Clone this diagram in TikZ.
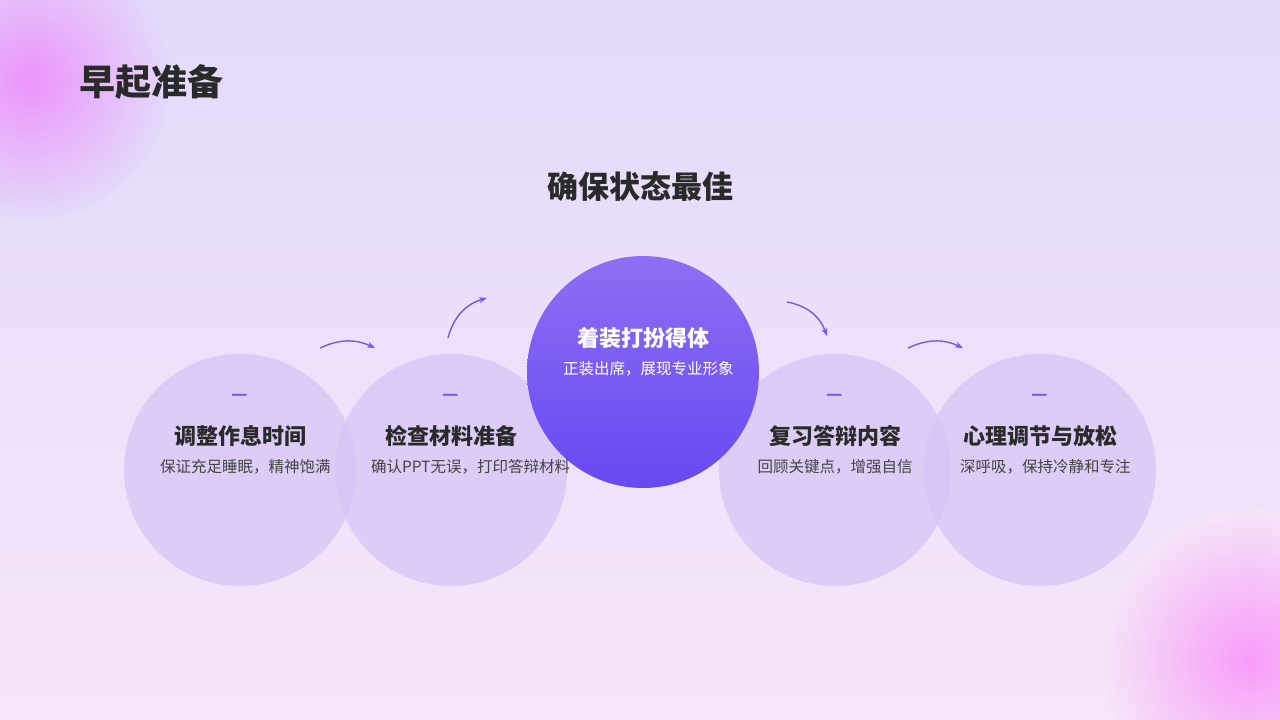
\documentclass[tikz,border=0pt]{standalone}
\usepackage{fontspec}
\setmainfont{Noto Sans CJK SC}
\usetikzlibrary{arrows.meta, positioning}
\definecolor{bgtop}{HTML}{E3DAFB}
\definecolor{bgbot}{HTML}{F6E6F8}
\definecolor{disc}{HTML}{D6C5F6}
\definecolor{accent}{HTML}{7A55F0}
\definecolor{ink}{HTML}{2A2A2A}
\definecolor{soft}{HTML}{444444}
\tikzset{
    step disc/.style={circle, fill=disc, fill opacity=0.75, minimum size=232pt, inner sep=0pt},
    step title/.style={font=\fontsize{22}{24}\selectfont\bfseries, text=ink},
    step text/.style={font=\fontsize{15.5}{24}\selectfont, text=soft, text width=160pt, align=center},
    step mark/.style={font=\fontsize{18}{18}\selectfont\bfseries, text=accent},
    flow arrow/.style={-{Stealth[length=8pt]}, accent, line width=1.4pt}
}
\begin{document}
\begin{tikzpicture}[x=1pt, y=-1pt]
    % Background
    \shade[top color=bgtop, bottom color=bgbot] (0,0) rectangle (1280,720);
    \useasboundingbox (0,0) rectangle (1280,720);
    \begin{scope}
        \clip (0,0) rectangle (1280,720);
        \shade[inner color=magenta!40!bgtop, outer color=bgtop, opacity=0.8] (30,80) circle (140);
        \shade[inner color=magenta!40!bgbot, outer color=bgbot, opacity=0.8] (1250,660) circle (150);
    \end{scope}

    % Titles
    \node[anchor=west, font=\fontsize{36}{40}\selectfont\bfseries, text=ink] (title) at (76,82) {早起准备};
    \node[font=\fontsize{31}{34}\selectfont\bfseries, text=ink] (subtitle) at (640,187) {确保状态最佳};

    % Steps
    \node[step disc] (s1) at (240,470) {};
    \node[step disc] (s2) at (451,470) {};
    \node[step disc] (s4) at (835,470) {};
    \node[step disc] (s5) at (1040,470) {};
    \node[circle, minimum size=232pt, inner sep=0pt, top color=accent!85!white, bottom color=accent!85!blue] (s3) at (643,372) {};

    \foreach \n/\t/\d in {s1/调整作息时间/{保证充足睡眠，精神饱满},
                          s2/检查材料准备/{确认PPT无误，打印答辩材料},
                          s4/复习答辩内容/{回顾关键点，增强自信},
                          s5/心理调节与放松/{深呼吸，保持冷静和专注}} {
        \node[step mark] (\n m) at ([yshift=73pt]\n.center) {—};
        \node[step title] (\n t) at ([yshift=34pt]\n.center) {\t};
        \node[step text, anchor=north] (\n d) at ([yshift=14pt]\n.center) {\d};
    }
    \node[step title, text=white] (s3t) at ([yshift=34pt]s3.center) {着装打扮得体};
    \node[step text, text=white, anchor=north] (s3d) at ([yshift=14pt]s3.center) {正装出席，展现专业形象};

    % Arrows
    \coordinate (a1) at (320,348); \coordinate (b1) at (375,348);
    \coordinate (a2) at (448,338); \coordinate (b2) at (487,298);
    \coordinate (a3) at (787,302); \coordinate (b3) at (827,336);
    \coordinate (a4) at (908,348); \coordinate (b4) at (963,348);
    \draw[flow arrow] (a1) to[bend left=25] (b1);
    \draw[flow arrow] (a2) to[bend left=30] (b2);
    \draw[flow arrow] (a3) to[bend left=30] (b3);
    \draw[flow arrow] (a4) to[bend left=25] (b4);
\end{tikzpicture}
\end{document}
